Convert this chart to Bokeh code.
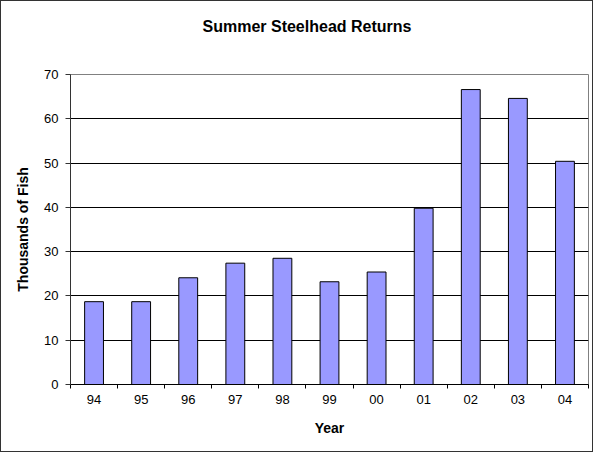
from bokeh.plotting import figure
from bokeh.models import Range1d, FixedTicker, ColumnDataSource, Title
from bokeh.embed import file_html
from bokeh.resources import INLINE

# ---- data ----
years = ["94", "95", "96", "97", "98", "99", "00", "01", "02", "03", "04"]
returns = [18.7, 18.7, 24.1, 27.4, 28.5, 23.2, 25.4, 39.8, 66.6, 64.6, 50.4]
y_ticks = [0, 10, 20, 30, 40, 50, 60, 70]

title_text = "Summer Steelhead Returns"
x_label = "Year"
y_label = "Thousands of Fish"

FONT = "Liberation Sans"

x_pos = [i + 0.5 for i in range(len(years))]
source = ColumnDataSource(dict(x=x_pos, top=returns, year=years))

p = figure(
    width=593, height=452,
    output_backend="svg", toolbar_location=None,
    x_range=Range1d(0, len(years)), y_range=Range1d(y_ticks[0], y_ticks[-1]),
    min_border_left=69, min_border_right=6, min_border_top=73, min_border_bottom=69,
)
p.styles = {"border": "1px solid #333333"}
p.background_fill_color = "white"
p.border_fill_color = "white"
p.outline_line_color = "#808080"
p.outline_line_width = 1

p.vbar(x="x", top="top", width=0.4, source=source,
       fill_color="#9999FF", line_color="black", line_width=1)

# title: default title minimised, a spacer title next to the frame, then the real title
p.title.text = ""
p.title.standoff = 0
p.title.text_font_size = "1px"
p.add_layout(Title(text=" ", text_font_size="1px", standoff=37), "above")
p.add_layout(Title(text=title_text, align="left", offset=132, standoff=0,
                   text_font=FONT, text_font_size="16px", text_font_style="bold",
                   text_color="black"), "above")

# grid
p.xgrid.visible = False
p.ygrid.ticker = FixedTicker(ticks=y_ticks[1:-1])
p.ygrid.grid_line_color = "black"
p.ygrid.grid_line_width = 1

# x axis
xa = p.xaxis[0]
xa.ticker = FixedTicker(ticks=x_pos, minor_ticks=list(range(len(years) + 1)))
xa.major_label_overrides = {xp: yr for xp, yr in zip(x_pos, years)}
xa.major_tick_line_color = None
xa.major_tick_out = 4
xa.major_tick_in = 0
xa.minor_tick_line_color = "black"
xa.minor_tick_out = 4
xa.minor_tick_in = 0
xa.axis_line_color = "black"
xa.major_label_standoff = 6
xa.major_label_text_font = FONT
xa.major_label_text_font_size = "13px"
xa.major_label_text_color = "black"
xa.axis_label = x_label
xa.axis_label_standoff = 13
xa.axis_label_text_font = FONT
xa.axis_label_text_font_size = "14px"
xa.axis_label_text_font_style = "bold"
xa.axis_label_text_color = "black"

# y axis
ya = p.yaxis[0]
ya.ticker = FixedTicker(ticks=y_ticks)
ya.major_tick_out = 5
ya.major_tick_in = 0
ya.major_tick_line_color = "#333333"
ya.minor_tick_line_color = None
ya.axis_line_color = "#333333"
ya.major_label_standoff = 7
ya.major_label_text_font = FONT
ya.major_label_text_font_size = "13px"
ya.major_label_text_color = "black"
ya.axis_label = y_label
ya.axis_label_standoff = 10
ya.axis_label_text_font = FONT
ya.axis_label_text_font_size = "14px"
ya.axis_label_text_font_style = "bold"
ya.axis_label_text_color = "black"

open("out.html", "w").write(file_html(p, INLINE))
